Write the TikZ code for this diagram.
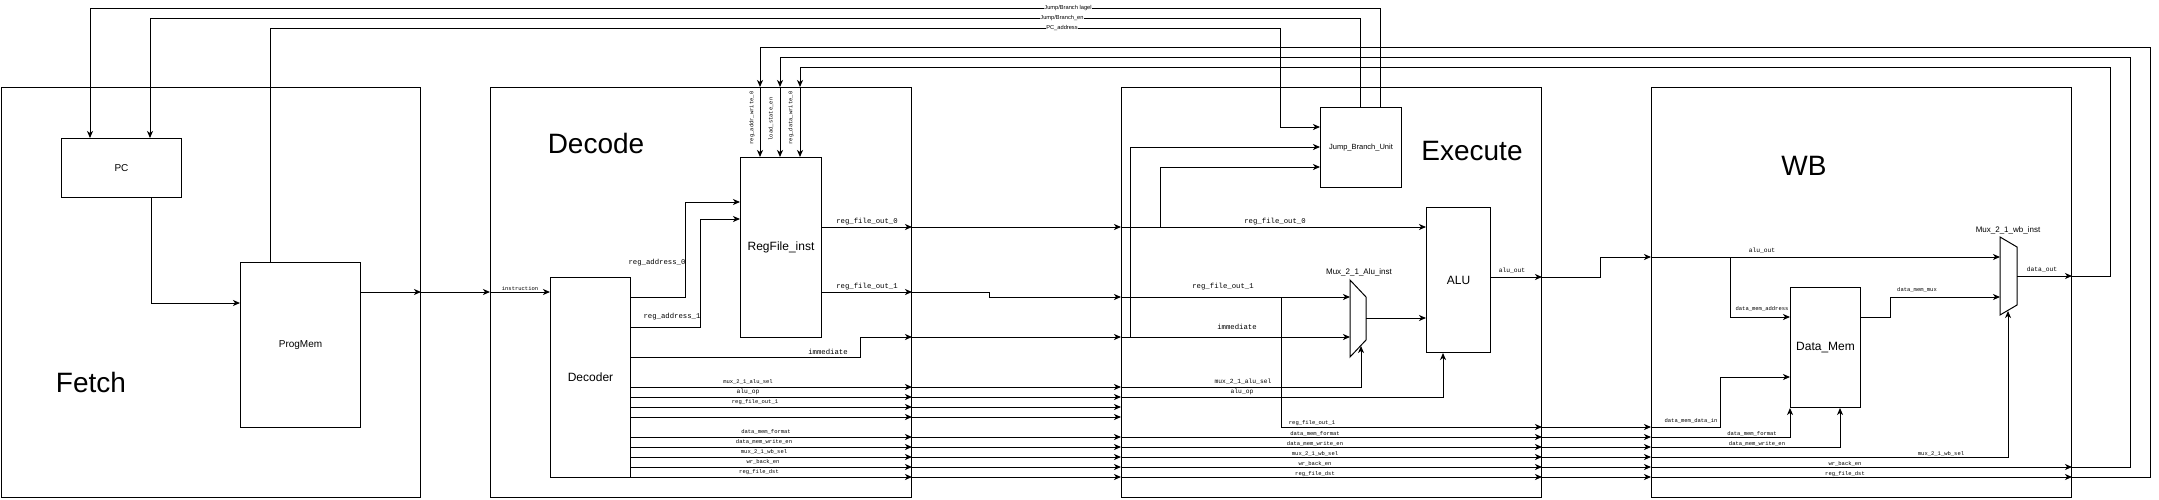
\documentclass[tikz,border=0pt]{standalone}
\usepackage{fontspec}
\setmainfont{Liberation Sans}
\setmonofont{Liberation Mono}
\usetikzlibrary{arrows.meta}

\tikzset{
	stage/.style={draw, line width=1pt, inner sep=0pt},
	block/.style={draw, line width=1pt, inner sep=0pt, font=\fontsize{12}{12}\selectfont},
	sig/.style={line width=1pt, -{Stealth[length=7pt,width=6pt,inset=2pt]}},
	wire/.style={line width=1pt},
	lbl/.style={font=\ttfamily\fontsize{5.5}{5.5}\selectfont, inner sep=0.5pt},
	lblm/.style={lbl, font=\ttfamily\fontsize{6.3}{6.3}\selectfont},
	lbll/.style={lbl, font=\ttfamily\fontsize{7.3}{7.3}\selectfont},
	toplbl/.style={font=\fontsize{5.7}{5.7}\selectfont, inner sep=0.8pt, fill=white},
	muxlbl/.style={font=\fontsize{8}{8}\selectfont, inner sep=0.5pt},
	title/.style={font=\fontsize{28}{28}\selectfont}
}
% style, name, x1, y1, x2, y2, text
\newcommand{\blockbox}[7]{
	\node[#1, anchor=north west, minimum width={(#5-#3)*1pt}, minimum height={(#6-#4)*1pt}]
		(#2) at (#3,#4) {#7};
}

\begin{document}
\begin{tikzpicture}[x=1pt, y=-1pt]
		\useasboundingbox (0,0) rectangle (2159,499);

		%% stages
		\blockbox{stage}{Fetch}{0.5}{87}{420}{497}{}
		\blockbox{stage}{Decode}{490}{87}{911}{497}{}
		\blockbox{stage}{Execute}{1121}{87}{1541}{497}{}
		\blockbox{stage}{WB}{1651}{87}{2071}{497}{}
		\node[title] (fetchtitle) at (91,382) {Fetch};
		\node[title] (decodetitle) at (596,143) {Decode};
		\node[title] (executetitle) at (1472,151) {Execute};
		\node[title] (wbtitle) at (1804,166) {WB};

		% blocks
		\blockbox{block, font=\fontsize{10}{10}\selectfont}{PC}{61}{138}{181}{197}{PC}
		\blockbox{block, font=\fontsize{10}{10}\selectfont}{ProgMem}{240}{262}{360}{427}{ProgMem}
		\blockbox{block}{Decoder}{550}{277}{630}{477}{Decoder}
		\blockbox{block}{RegFile}{740}{157}{821}{337}{RegFile\_inst}
		\blockbox{block, font=\fontsize{7.5}{7.5}\selectfont}{JBU}{1320}{107}{1401}{187}{Jump\_Branch\_Unit}
		\blockbox{block}{ALU}{1426}{207}{1490}{352}{ALU}
		\blockbox{block}{DataMem}{1790}{287}{1860}{407}{Data\_Mem}

		% muxes
		\draw[wire, fill=white] (1350,280) -- (1366,297) -- (1366,340) -- (1350,357) -- cycle;
		\node[muxlbl] (muxalulbl) at (1359,272) {Mux\_2\_1\_Alu\_inst};
		\draw[wire, fill=white] (2000,237) -- (2017,247) -- (2017,305) -- (2000,315) -- cycle;
		\node[muxlbl] (muxwblbl) at (2008,230) {Mux\_2\_1\_wb\_inst};

		%% fetch
		\draw[sig] (PC.south -| 151,0) |- (ProgMem.west |- 0,303);
		\draw[sig] (ProgMem.east |- 0,292) -- (Fetch.east |- 0,292);
		\draw[sig] (Fetch.east |- 0,292) -- (Decode.west |- 0,292);
		\draw[sig] (Decode.west |- 0,292) -- (Decoder.west |- 0,292);
		\node[lbl] at (520,289) {instruction};

		%% decode
		\draw[sig] (Decoder.east |- 0,297) -| (685,202) -- (RegFile.west |- 0,202);
		\node[lbll] at (657,263) {reg\_address\_0};
		\draw[sig] (Decoder.east |- 0,327) -| (700,219) -- (RegFile.west |- 0,219);
		\node[lbll] at (672,317) {reg\_address\_1};
		\draw[sig] (Decoder.east |- 0,357) -| (860,337) -- (Decode.east |- 0,337);
		\node[lbll] at (828,352) {immediate};
		\draw[sig] (RegFile.east |- 0,227) -- (Decode.east |- 0,227);
		\node[lbll] at (867,222) {reg\_file\_out\_0};
		\draw[sig] (RegFile.east |- 0,292) -- (Decode.east |- 0,292);
		\node[lbll] at (867,287) {reg\_file\_out\_1};

		% control lines
		\foreach \y in {387,397,407,417,437,447,457,467,477}
			\draw[sig] (Decoder.east |- 0,\y) -- (Decode.east |- 0,\y);
		\node[lbl] at (748,382) {mux\_2\_1\_alu\_sel};
		\node[lblm] at (748,392) {alu\_op};
		\node[lbl] at (755,402) {reg\_file\_out\_1};
		\node[lbl] at (766,432) {data\_mem\_format};
		\node[lbl] at (764,442) {data\_mem\_write\_en};
		\node[lbl] at (764,452) {mux\_2\_1\_wb\_sel};
		\node[lbl] at (763,462) {wr\_back\_en};
		\node[lbl] at (759,472) {reg\_file\_dst};

		% regfile write ports
		\node[lbl, rotate=90] at (752,118) {reg\_addr\_write\_0};
		\node[lbl, rotate=90] at (771,119) {load\_state\_en};
		\node[lbl, rotate=90] at (791,118) {reg\_data\_write\_0};
		\draw[sig] (Decode.north -| 760,0) -- (RegFile.north -| 760,0);
		\draw[sig] (Decode.north -| 780,0) -- (RegFile.north -| 780,0);
		\draw[sig] (Decode.north -| 800,0) -- (RegFile.north -| 800,0);

		%% decode -> execute
		\draw[sig] (Decode.east |- 0,227) -- (Execute.west |- 0,227);
		\draw[sig] (Decode.east |- 0,292) -| (989,297) -- (Execute.west |- 0,297);
		\draw[sig] (Decode.east |- 0,337) -- (Execute.west |- 0,337);
		\foreach \y in {387,397,407,417,437,447,457,467,477}
			\draw[sig] (Decode.east |- 0,\y) -- (Execute.west |- 0,\y);

		%% execute
		\draw[sig] (Execute.west |- 0,227) -- (ALU.west |- 0,227);
		\node[lbll] at (1275,222) {reg\_file\_out\_0};
		\draw[sig] (1160,227) |- (JBU.west |- 0,167);
		\draw[sig] (1130,337) |- (JBU.west |- 0,147);
		\draw[sig] (Execute.west |- 0,297) -- (1350,297);
		\node[lbll] at (1223,287) {reg\_file\_out\_1};
		\draw[sig] (Execute.west |- 0,337) -- (1350,337);
		\node[lbll] at (1237,327) {immediate};
		\draw[sig] (1366,318) -- (ALU.west |- 0,318);
		\draw[sig] (Execute.west |- 0,387) -| (1361,346);
		\node[lblm] at (1243,382) {mux\_2\_1\_alu\_sel};
		\draw[sig] (Execute.west |- 0,397) -| (ALU.south -| 1443,0);
		\node[lblm] at (1242,392) {alu\_op};
		\draw[sig] (1281,297) |- (Execute.east |- 0,427);
		\node[lbl] at (1312,423) {reg\_file\_out\_1};
		\foreach \y in {437,447,457,467,477}
			\draw[sig] (Execute.west |- 0,\y) -- (Execute.east |- 0,\y);
		\node[lbl] at (1315,434) {data\_mem\_format};
		\node[lbl] at (1315,444) {data\_mem\_write\_en};
		\node[lbl] at (1315,454) {mux\_2\_1\_wb\_sel};
		\node[lbl] at (1315,464) {wr\_back\_en};
		\node[lbl] at (1315,474) {reg\_file\_dst};
		\draw[sig] (ALU.east |- 0,277) -- (Execute.east |- 0,277);
		\node[lblm] at (1512,271) {alu\_out};

		%% execute -> wb
		\draw[sig] (Execute.east |- 0,277) -| (1600,257) -- (WB.west |- 0,257);
		\foreach \y in {427,437,447,457,467,477}
			\draw[sig] (Execute.east |- 0,\y) -- (WB.west |- 0,\y);

		%% wb
		\draw[sig] (WB.west |- 0,257) -- (2000,257);
		\node[lblm] at (1762,251) {alu\_out};
		\draw[sig] (1730,257) |- (DataMem.west |- 0,317);
		\node[lbl] at (1762,309) {data\_mem\_address};
		\draw[sig] (DataMem.east |- 0,317) -| (1890,297) -- (2000,297);
		\node[lbl] at (1917,290) {data\_mem\_mux};
		\draw[sig] (WB.west |- 0,427) -| (1720,377) -- (DataMem.west |- 0,377);
		\node[lbl] at (1691,421) {data\_mem\_data\_in};
		\draw[sig] (WB.west |- 0,437) -| (DataMem.south -| 1790,0);
		\node[lbl] at (1752,434) {data\_mem\_format};
		\draw[sig] (WB.west |- 0,447) -| (DataMem.south -| 1840,0);
		\node[lbl] at (1757,444) {data\_mem\_write\_en};
		\draw[sig] (WB.west |- 0,457) -| (2008,311);
		\node[lbl] at (1941,454) {mux\_2\_1\_wb\_sel};
		\draw[sig] (WB.west |- 0,467) -- (WB.east |- 0,467);
		\node[lbl] at (1845,464) {wr\_back\_en};
		\draw[sig] (WB.west |- 0,477) -- (WB.east |- 0,477);
		\node[lbl] at (1845,474) {reg\_file\_dst};
		\draw[sig] (2017,276) -- (WB.east |- 0,276);
		\node[lblm] at (2042,270) {data\_out};

		%% write back loops
		\draw[sig] (WB.east |- 0,276) -| (2110,67) -| (Decode.north -| 800,0);
		\draw[sig] (WB.east |- 0,467) -| (2130,57) -| (Decode.north -| 780,0);
		\draw[sig] (WB.east |- 0,477) -| (2150,47) -| (Decode.north -| 760,0);

		%% jump / branch loops
		\draw[sig] (JBU.north -| 1380,0) |- (90,8) -- (PC.north -| 90,0);
		\node[toplbl] at (1068,8) {Jump/Branch lagel};
		\draw[sig] (JBU.north -| 1360,0) |- (150,18) -- (PC.north -| 150,0);
		\node[toplbl] at (1062,18) {Jump/Branch\_en};
		\draw[sig] (ProgMem.north -| 270,0) |- (1280,28) |- (JBU.west |- 0,127);
		\node[toplbl] at (1062,28) {PC\_address};
	\end{tikzpicture}
\end{document}
